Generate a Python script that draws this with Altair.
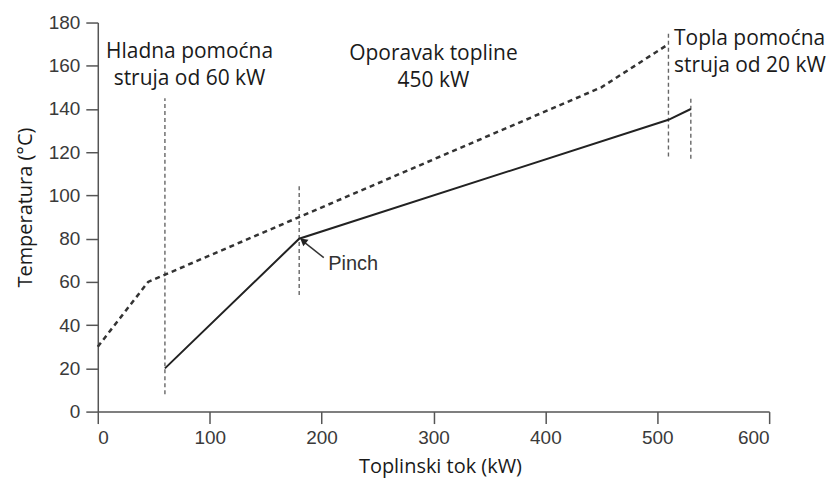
import altair as alt
import pandas as pd

# Hot composite curve (dashed)
hot_q = [0, 45, 180, 450, 510]
hot_t = [30, 60, 90, 150, 170]
# Cold composite curve (solid)
cold_q = [60, 180, 510, 530]
cold_t = [20, 80, 135, 140]
# Vertical guide lines
guide_q = [60, 180, 510, 530]
guide_lo = [8, 54, 118, 117]
guide_hi = [145, 105, 176, 146]
# Annotations
ann_left_text = ["Topla pomoćna\nstruja od 20 kW"]
ann_left_q = [515]
ann_left_t = [169.5]
ann_center_text = ["Hladna pomoćna\nstruja od 60 kW", "Oporavak topline\n450 kW"]
ann_center_q = [82, 300]
ann_center_t = [163.5, 162.5]
pinch_text = ["Pinch"]
pinch_q = [206]
pinch_t = [65.7]
arrow_q = [202]
arrow_t = [71.2]
arrow_q2 = [185]
arrow_t2 = [78.2]
head_q = [183.5]
head_t = [79]

hot = pd.DataFrame({"q": hot_q, "t": hot_t})
cold = pd.DataFrame({"q": cold_q, "t": cold_t})
guides = pd.DataFrame({"q": guide_q, "lo": guide_lo, "hi": guide_hi})
ann_l = pd.DataFrame({"q": ann_left_q, "t": ann_left_t, "text": ann_left_text})
ann_c = pd.DataFrame({"q": ann_center_q, "t": ann_center_t, "text": ann_center_text})
pinch = pd.DataFrame({"q": pinch_q, "t": pinch_t, "text": pinch_text})
arrow = pd.DataFrame({"q": arrow_q, "t": arrow_t, "q2": arrow_q2, "t2": arrow_t2})
head = pd.DataFrame({"q": head_q, "t": head_t})

xs = alt.Scale(domain=[0, 600], nice=False)
ys = alt.Scale(domain=[0, 180], nice=False)

xax = alt.Axis(values=[0, 100, 200, 300, 400, 500, 600], title="Toplinski tok (kW)",
               titleX=343, titlePadding=9, labelPadding=5)
yax = alt.Axis(values=list(range(0, 181, 20)), title="Temperatura (°C)",
               titleY=185, titlePadding=13, labelPadding=6)

hot_line = alt.Chart(hot).mark_line(strokeDash=[5, 4], strokeWidth=2.5, color="#333333").encode(
    x=alt.X("q:Q", scale=xs, axis=xax),
    y=alt.Y("t:Q", scale=ys, axis=yax),
)
cold_line = alt.Chart(cold).mark_line(strokeWidth=2, color="#222222").encode(
    x=alt.X("q:Q", scale=xs),
    y=alt.Y("t:Q", scale=ys),
)
guide_rules = alt.Chart(guides).mark_rule(strokeDash=[4, 3], strokeWidth=1.4, color="#666666").encode(
    x=alt.X("q:Q", scale=xs),
    y=alt.Y("lo:Q", scale=ys),
    y2="hi:Q",
)
text_font = "Open Sans"
left_text = alt.Chart(ann_l).mark_text(
    align="left", baseline="alphabetic", lineBreak="\n", lineHeight=27,
    font=text_font, fontSize=21, color="#1a1a1a"
).encode(x=alt.X("q:Q", scale=xs), y=alt.Y("t:Q", scale=ys), text="text:N")
center_text = alt.Chart(ann_c).mark_text(
    align="center", baseline="alphabetic", lineBreak="\n", lineHeight=27,
    font=text_font, fontSize=21, color="#1a1a1a"
).encode(x=alt.X("q:Q", scale=xs), y=alt.Y("t:Q", scale=ys), text="text:N")
pinch_label = alt.Chart(pinch).mark_text(
    align="left", baseline="alphabetic", font="Liberation Sans", fontSize=20, color="#333333"
).encode(x=alt.X("q:Q", scale=xs), y=alt.Y("t:Q", scale=ys), text="text:N")
arrow_shaft = alt.Chart(arrow).mark_rule(strokeWidth=1.5, color="#333333").encode(
    x=alt.X("q:Q", scale=xs), y=alt.Y("t:Q", scale=ys), x2="q2:Q", y2="t2:Q"
)
arrow_head = alt.Chart(head).mark_point(
    shape="triangle-up", filled=True, size=70, angle=309, color="#222222", opacity=1
).encode(x=alt.X("q:Q", scale=xs), y=alt.Y("t:Q", scale=ys))

chart = alt.layer(
    guide_rules, hot_line, cold_line, arrow_shaft, arrow_head,
    pinch_label, left_text, center_text
).properties(
    width=673, height=390,
    autosize=alt.AutoSizeParams(type="none"),
    padding={"left": 90, "top": 14, "right": 62, "bottom": 68},
).configure_view(stroke=None).configure_axis(
    grid=False,
    domainColor="#555555", domainWidth=1.5,
    tickColor="#555555", tickWidth=1.5, tickSize=12,
    labelFont="Liberation Sans", labelFontSize=19, labelColor="#3a3a3a",
    titleFont="Open Sans", titleFontSize=20, titleFontWeight="normal", titleColor="#1a1a1a",
)

chart.save("out.html", embed_options={"renderer": "svg", "actions": False})
